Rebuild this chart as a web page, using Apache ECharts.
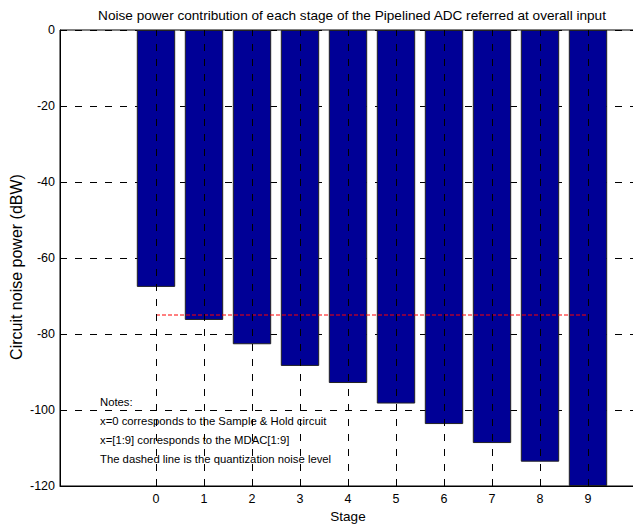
<!DOCTYPE html>
<html>
<head>
<meta charset="utf-8">
<script src="https://cdn.jsdelivr.net/npm/echarts@6/dist/echarts.min.js"></script>
<style>
html,body{margin:0;padding:0;background:#fff;}
#chart{width:633px;height:525px;}
</style>
</head>
<body>
<div id="chart"></div>
<script>
// ---- data ----
var stages = [0, 1, 2, 3, 4, 5, 6, 7, 8, 9];
var noisePower = [-67.6, -76.3, -82.7, -88.4, -92.9, -98.3, -103.7, -108.7, -113.6, -120];
var quantNoiseLevel = -75;
var quantLineStages = [0, 9];
var yTicks = [0, -20, -40, -60, -80, -100, -120];
var titleText = 'Noise power contribution of each stage of the Pipelined ADC referred at overall input';
var xName = 'Stage';
var yName = 'Circuit noise power (dBW)';
var notes = ['Notes:', 'x=0 corresponds to the Sample & Hold circuit', 'x=[1:9] corresponds to the MDAC[1:9]', 'The dashed line is the quantization noise level'];

var FONT = 'Liberation Sans, Arial, Helvetica, sans-serif';
var chart = echarts.init(document.getElementById('chart'), null, {renderer: 'svg'});

var barData = stages.map(function (s, i) { return [s, noisePower[i]]; });
var quantData = quantLineStages.map(function (s) { return [s, quantNoiseLevel]; });

var graphics = notes.map(function (t, i) {
  return {
    type: 'text', left: 100, top: 396 + i * 19.3, z: 10,
    style: {text: t, font: '11.3px ' + FONT, fill: '#000'}
  };
});
graphics.push({
  type: 'text', x: 16, y: 267, rotation: Math.PI / 2, z: 10,
  style: {text: yName, font: '16px ' + FONT, fill: '#000', align: 'center', verticalAlign: 'middle'}
});

chart.setOption({
  animation: false,
  backgroundColor: '#fff',
  title: {
    text: titleText, left: 347, top: 3, textAlign: 'center',
    textStyle: {fontFamily: FONT, fontSize: 13.6, fontWeight: 'normal', color: '#000'}
  },
  grid: {left: 60, top: 30, right: -3, bottom: 39, show: true, borderColor: '#000', borderWidth: 1,
         outerBoundsMode: 'none', containLabel: false},
  xAxis: {
    type: 'value', min: -2, max: 10, interval: 1,
    name: xName, nameLocation: 'middle', nameGap: 23,
    nameTextStyle: {fontFamily: FONT, fontSize: 13.5, color: '#000'},
    axisLine: {show: true, onZero: false, lineStyle: {color: '#000', width: 1}},
    axisTick: {show: true, inside: true, length: 5, customValues: stages, lineStyle: {color: '#000'}},
    axisLabel: {customValues: stages, fontFamily: FONT, fontSize: 12.5, color: '#000', margin: 6},
    splitLine: {show: false}
  },
  yAxis: {
    type: 'value', min: -120, max: 0, interval: 20,
    axisLine: {show: true, onZero: false, lineStyle: {color: '#000', width: 1}},
    axisTick: {show: true, inside: true, length: 5, lineStyle: {color: '#000'}},
    axisLabel: {fontFamily: FONT, fontSize: 12.5, color: '#000', margin: 5},
    splitLine: {show: true, lineStyle: {color: '#000', width: 1, type: [7, 8]}}
  },
  graphic: graphics,
  series: [
    {
      type: 'scatter', z: 1, silent: true, symbolSize: 0,
      data: barData,
      markLine: {
        silent: true, symbol: 'none', label: {show: false},
        lineStyle: {color: '#000', width: 1, type: [7, 8]},
        data: stages.map(function (s) { return {xAxis: s}; })
      }
    },
    {
      type: 'bar', z: 2, barWidth: '80%',
      data: barData,
      itemStyle: {color: '#000096', borderColor: '#222', borderWidth: 1}
    },
    {
      type: 'line', z: 3, symbol: 'none', silent: true,
      data: quantData,
      lineStyle: {color: '#ff0000', width: 1, type: [4, 2]}
    }
  ]
});
</script>
</body>
</html>
